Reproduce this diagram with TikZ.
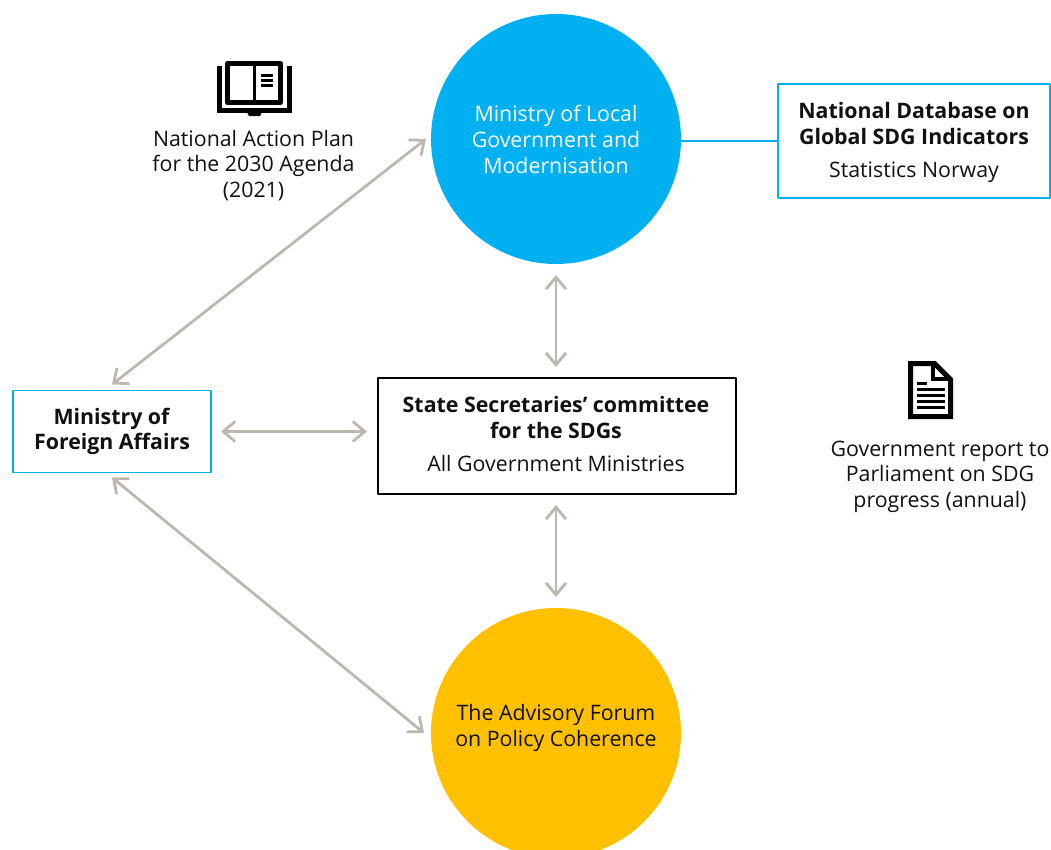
\documentclass[tikz,border=0pt]{standalone}
\usepackage{fontspec}
\setmainfont{Open Sans}
\usetikzlibrary{arrows.meta}
\definecolor{skyblue}{HTML}{00B0F0}
\definecolor{amber}{HTML}{FFC000}
\definecolor{stone}{HTML}{BDB8AF}
\definecolor{inkdark}{HTML}{111111}
\tikzset{
	disc/.style={circle, inner sep=0pt, outer sep=0pt, minimum size=250*0.75pt},
	framebox/.style={draw=skyblue, line width=0.9pt, inner sep=0pt, outer sep=0pt},
	linkarrow/.style={draw=stone, line width=2.1pt, {Straight Barb[length=9pt,width=15pt]}-{Straight Barb[length=9pt,width=15pt]}},
	caption/.style={align=center, inner sep=0pt}
}
\begin{document}
\begin{tikzpicture}[x=0.75pt, y=-0.75pt, font=\fontsize{16}{19.2}\selectfont, text=inkdark, line join=round]
	\useasboundingbox (0,0) rectangle (1051,850);
	\node[disc, fill=skyblue] (local) at (556,139) {};
	\node[disc, fill=amber] (advisory) at (556,733) {};
	\node[framebox, minimum width=272*0.75pt, minimum height=114*0.75pt] (database) at (914,141) {};
	\node[framebox, minimum width=198*0.75pt, minimum height=82*0.75pt] (foreign) at (112,431.5) {};
	\node[framebox, draw=black, line width=0.8pt, minimum width=358*0.75pt, minimum height=116*0.75pt] (state) at (557,436) {};
	% texts
	\node[caption, text=white] (localtext) at (556,139.5) {Ministry of Local\\Government and\\Modernisation};
	\node[caption] (advisorytext) at (556,728) {The Advisory Forum\\on Policy Coherence};
	\node[caption] (databasetext) at (914,142.5) {\textbf{National Database on}\\\textbf{Global SDG Indicators}\\[6pt]Statistics Norway};
	\node[caption] (foreigntext) at (112,431.5) {\textbf{Ministry of}\\\textbf{Foreign Affairs}};
	\node[caption] (statetext) at (556,434) {\textbf{State Secretaries’ committee}\\\textbf{for the SDGs}\\[6pt]All Government Ministries};
	\node[caption] (plan) at (253.5,165.5) {National Action Plan\\for the 2030 Agenda\\(2021)};
	\node[caption] (report) at (940,476.5) {Government report to\\Parliament on SDG\\progress (annual)};
	% connectors
	\draw[skyblue, line width=2.2pt] (database.west) -- (database.west -| local.east);
	\draw[linkarrow] ([yshift=6*0.75pt]foreign.north) -- ([xshift=-5*0.75pt]local.west);
	\draw[linkarrow] ([yshift=-5*0.75pt]foreign.south) -- ([xshift=-7*0.75pt]advisory.west);
	\draw[linkarrow, shorten <=10*0.75pt, shorten >=11*0.75pt] (foreign.east) -- (foreign.east -| state.west);
	\draw[linkarrow, shorten <=11*0.75pt, shorten >=11*0.75pt] (local.south) -- (state.north -| local.south);
	\draw[linkarrow, shorten <=11*0.75pt, shorten >=11*0.75pt] (state.south -| advisory.north) -- (advisory.north);
	% book icon
	\draw[line width=5*0.75pt, miter limit=4] (227.5,63.5) rectangle (280.5,102.5);
	\fill (252.5,63) rectangle (255.5,103);
	\foreach \y in {75,80,85} \fill (261,\y-1.5) rectangle (273,\y+1.5);
	\draw[line width=5*0.75pt, line join=miter] (219.5,66) -- (219.5,110.5) -- (289.5,110.5) -- (289.5,66);
	\fill (247,112) -- (262,112) -- (260,116) -- (249,116) -- cycle;
	% report icon
	\draw[line width=5*0.75pt, line join=miter] (910.5,363.5) -- (934.5,363.5) -- (950.5,379.5) -- (950.5,416.5) -- (910.5,416.5) -- cycle;
	\draw[line width=4*0.75pt, line join=miter] (933,363) -- (933,379) -- (951,379);
	\fill (917,381.5) rectangle (927,384.5);
	\foreach \y in {389,395,401,407} \fill (917,\y-1.5) rectangle (945,\y+1.5);
\end{tikzpicture}
\end{document}
